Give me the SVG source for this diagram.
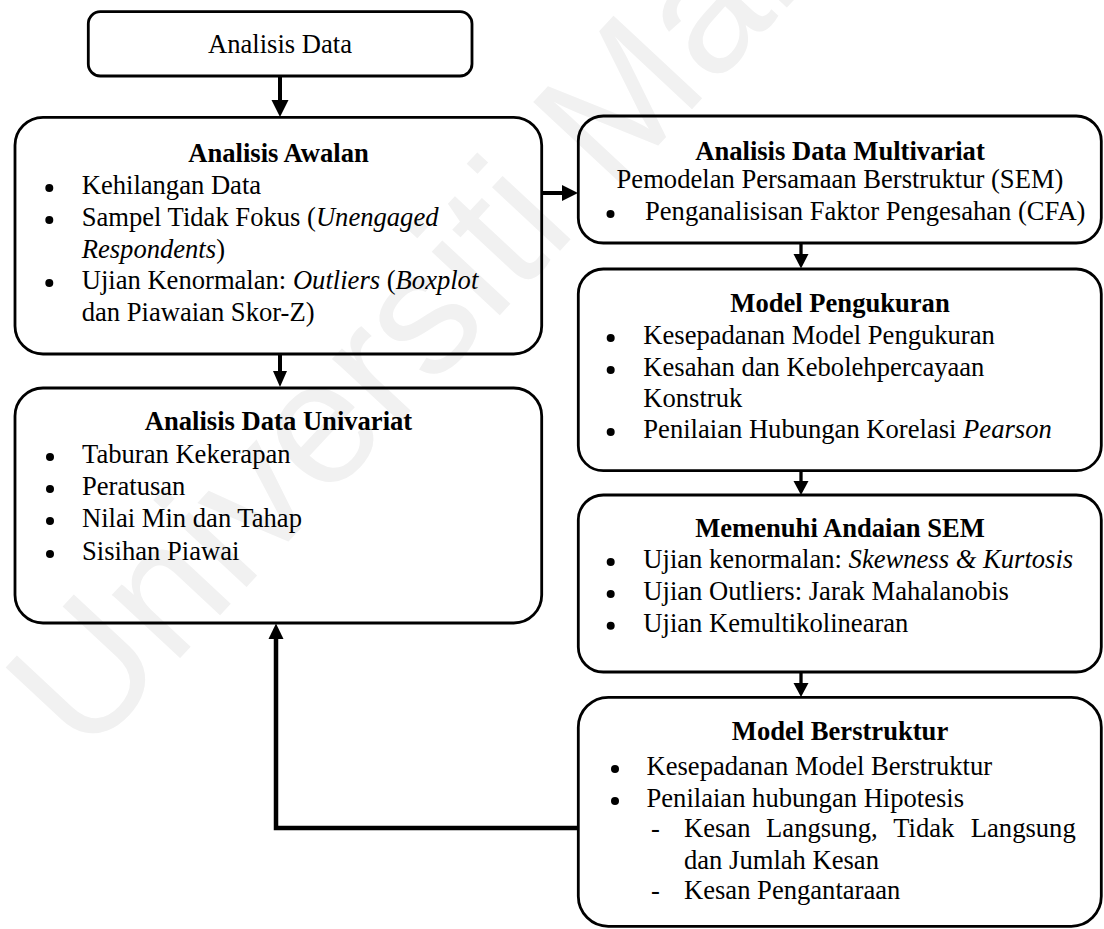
<svg xmlns="http://www.w3.org/2000/svg" width="1104" height="929" viewBox="0 0 1104 929">
<style>
text{font-family:"Liberation Serif","Times New Roman",serif;font-size:26.6px;fill:#000}
.t{font-weight:bold;text-anchor:middle}
.c{text-anchor:middle}
.box{fill:none;stroke:#000;stroke-width:2.8}
.ln{fill:none;stroke:#000;stroke-linejoin:miter}
.hd{fill:#000}
.wm{font-family:"Liberation Sans",Arial,sans-serif;font-size:176px;fill:#f1f1f1}
</style>
<rect width="1104" height="929" fill="#fff"/>
<text class="wm" transform="translate(85,760) rotate(-47)">Universiti Malaya</text>

<g id="connectors">
<line class="ln" x1="280" y1="76" x2="280" y2="101" stroke-width="4"/>
<polygon class="hd" points="271.5,100 288.5,100 280,117"/>
<line class="ln" x1="280" y1="354" x2="280" y2="372" stroke-width="4"/>
<polygon class="hd" points="273,371 287,371 280,387"/>
<line class="ln" x1="541" y1="193" x2="563" y2="193" stroke-width="4"/>
<polygon class="hd" points="562,185 562,201 578,193"/>
<line class="ln" x1="801" y1="243" x2="801" y2="255" stroke-width="3.3"/>
<polygon class="hd" points="793.5,254 808.5,254 801,268.5"/>
<line class="ln" x1="801" y1="470" x2="801" y2="482" stroke-width="3.3"/>
<polygon class="hd" points="793.5,481 808.5,481 801,495"/>
<line class="ln" x1="801" y1="672" x2="801" y2="684" stroke-width="3.3"/>
<polygon class="hd" points="793.5,683 808.5,683 801,697"/>
<polyline class="ln" points="578,828 276,828 276,639" stroke-width="4.5"/>
<polygon class="hd" points="268.5,639 283.5,639 276,623.5"/>
</g>

<g id="n-analisis-data">
<rect class="box" x="88.3" y="11.7" width="383.7" height="64.3" rx="12"/>
<text class="c" x="280" y="53">Analisis Data</text>
</g>

<g id="n-analisis-awalan">
<rect class="box" x="15" y="117.3" width="526.7" height="236.7" rx="28"/>
<text class="t" x="278.5" y="162">Analisis Awalan</text>
<circle cx="49.3" cy="188" r="4"/>
<text x="81.7" y="194">Kehilangan Data</text>
<circle cx="49.3" cy="220" r="4"/>
<text x="81.7" y="226">Sampel Tidak Fokus (<tspan font-style="italic">Unengaged</tspan></text>
<text x="81.7" y="257.5"><tspan font-style="italic">Respondents</tspan>)</text>
<circle cx="49.3" cy="283" r="4"/>
<text x="81.7" y="289"><tspan>Ujian Kenormalan: </tspan><tspan font-style="italic">Outliers</tspan> (<tspan font-style="italic">Boxplot</tspan></text>
<text x="81.7" y="320.5">dan Piawaian Skor-Z)</text>
</g>

<g id="n-univariat">
<rect class="box" x="15" y="388" width="526.7" height="235" rx="28"/>
<text class="t" x="278.5" y="430">Analisis Data Univariat</text>
<circle cx="50" cy="457" r="4"/>
<text x="82" y="463">Taburan Kekerapan</text>
<circle cx="50" cy="489" r="4"/>
<text x="82" y="495">Peratusan</text>
<circle cx="50" cy="521" r="4"/>
<text x="82" y="527">Nilai Min dan Tahap</text>
<circle cx="50" cy="554" r="4"/>
<text x="82" y="560">Sisihan Piawai</text>
</g>

<g id="n-multivariat">
<rect class="box" x="578.3" y="116" width="523" height="127" rx="25"/>
<text class="t" x="840" y="160">Analisis Data Multivariat</text>
<text class="c" x="840" y="188">Pemodelan Persamaan Berstruktur (SEM)</text>
<circle cx="610.5" cy="214" r="4"/>
<text x="645" y="220">Penganalisisan Faktor Pengesahan (CFA)</text>
</g>

<g id="n-pengukuran">
<rect class="box" x="578.3" y="269" width="523" height="201.7" rx="25"/>
<text class="t" x="840" y="312">Model Pengukuran</text>
<circle cx="610.7" cy="338" r="4"/>
<text x="643.3" y="344">Kesepadanan Model Pengukuran</text>
<circle cx="610.7" cy="370" r="4"/>
<text x="643.3" y="376">Kesahan dan Kebolehpercayaan</text>
<text x="643.3" y="406.7">Konstruk</text>
<circle cx="610.7" cy="432" r="4"/>
<text x="643.3" y="438">Penilaian Hubungan Korelasi <tspan font-style="italic">Pearson</tspan></text>
</g>

<g id="n-andaian">
<rect class="box" x="578.3" y="495" width="523" height="177" rx="25"/>
<text class="t" x="840" y="536.7">Memenuhi Andaian SEM</text>
<circle cx="610.7" cy="562" r="4"/>
<text x="643.3" y="568">Ujian kenormalan: <tspan font-style="italic">Skewness &amp; Kurtosis</tspan></text>
<circle cx="610.7" cy="594" r="4"/>
<text x="643.3" y="600">Ujian Outliers: Jarak Mahalanobis</text>
<circle cx="610.7" cy="625.7" r="4"/>
<text x="643.3" y="631.7">Ujian Kemultikolinearan</text>
</g>

<g id="n-berstruktur">
<rect class="box" x="578.3" y="697.3" width="523" height="229" rx="30"/>
<text class="t" x="840" y="740">Model Berstruktur</text>
<circle cx="615" cy="769" r="4"/>
<text x="646.5" y="775">Kesepadanan Model Berstruktur</text>
<circle cx="615" cy="801" r="4"/>
<text x="646.5" y="807">Penilaian hubungan Hipotesis</text>
<text x="651" y="837">-</text>
<text x="684" y="837">Kesan</text>
<text x="766.1" y="837">Langsung,</text>
<text x="893.3" y="837">Tidak</text>
<text x="1075.7" y="837" text-anchor="end">Langsung</text>
<text x="684" y="869">dan Jumlah Kesan</text>
<text x="651" y="899">-</text>
<text x="684" y="899">Kesan Pengantaraan</text>
</g>
</svg>
